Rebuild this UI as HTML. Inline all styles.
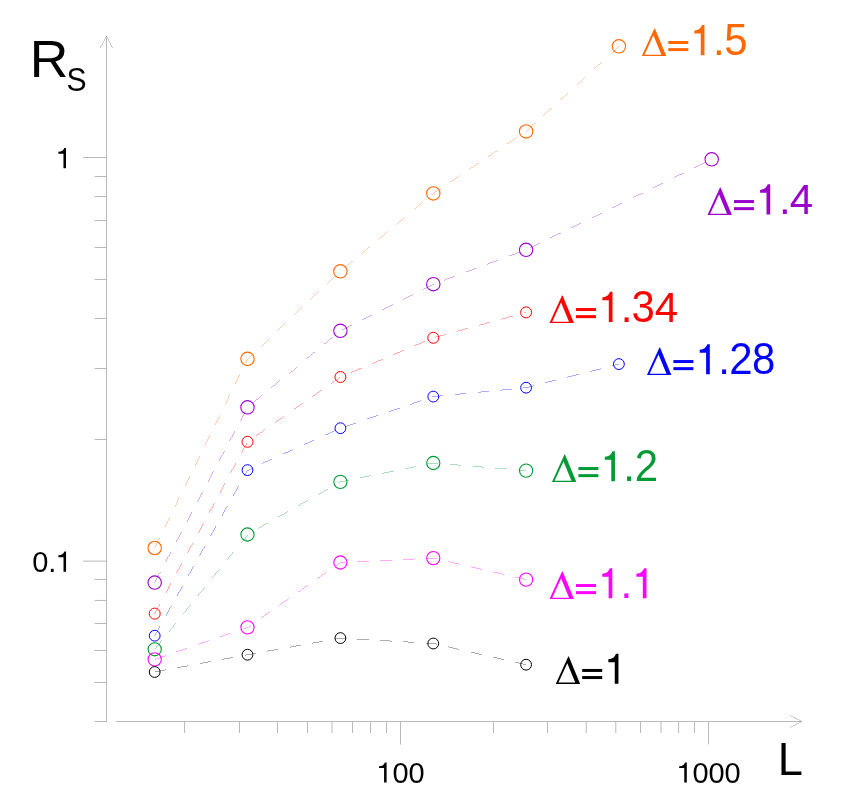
<!DOCTYPE html>
<html><head><meta charset="utf-8"><title>chart</title>
<style>html,body{margin:0;padding:0;background:#fff}body{width:848px;height:808px;overflow:hidden}svg{display:block}text{font-family:"Liberation Sans",sans-serif}.t{will-change:transform}</style></head><body>
<svg width="848" height="808" viewBox="0 0 848 808">
<rect width="848" height="808" fill="#fff"/>
<g fill="#000">
<rect x="106" y="37.5" width="1" height="684.5" fill-opacity="0.280"/>
<rect x="116.1" y="721" width="684.9" height="1" fill-opacity="0.280"/>
<rect x="83" y="157" width="23" height="1" fill-opacity="0.280"/>
<rect x="83" y="560" width="23" height="1" fill-opacity="0.100"/>
<rect x="83" y="561" width="23" height="1" fill-opacity="0.180"/>
<rect x="94.6" y="439" width="11.4" height="1" fill-opacity="0.280"/>
<rect x="94.6" y="368" width="11.4" height="1" fill-opacity="0.280"/>
<rect x="94.6" y="318" width="11.4" height="1" fill-opacity="0.280"/>
<rect x="94.6" y="278" width="11.4" height="1" fill-opacity="0.009"/>
<rect x="94.6" y="279" width="11.4" height="1" fill-opacity="0.271"/>
<rect x="94.6" y="247" width="11.4" height="1" fill-opacity="0.280"/>
<rect x="94.6" y="220" width="11.4" height="1" fill-opacity="0.280"/>
<rect x="94.6" y="196" width="11.4" height="1" fill-opacity="0.280"/>
<rect x="94.6" y="176" width="11.4" height="1" fill-opacity="0.280"/>
<rect x="94.6" y="721" width="11.4" height="1" fill-opacity="0.280"/>
<rect x="94.6" y="682" width="11.4" height="1" fill-opacity="0.280"/>
<rect x="94.6" y="650" width="11.4" height="1" fill-opacity="0.280"/>
<rect x="94.6" y="623" width="11.4" height="1" fill-opacity="0.280"/>
<rect x="94.6" y="599" width="11.4" height="1" fill-opacity="0.014"/>
<rect x="94.6" y="600" width="11.4" height="1" fill-opacity="0.266"/>
<rect x="94.6" y="579" width="11.4" height="1" fill-opacity="0.280"/>
<rect x="184" y="722" width="1" height="11" fill-opacity="0.264"/>
<rect x="185" y="722" width="1" height="11" fill-opacity="0.016"/>
<rect x="239" y="722" width="1" height="11" fill-opacity="0.280"/>
<rect x="277" y="722" width="1" height="11" fill-opacity="0.280"/>
<rect x="307" y="722" width="1" height="11" fill-opacity="0.280"/>
<rect x="331" y="722" width="1" height="11" fill-opacity="0.139"/>
<rect x="332" y="722" width="1" height="11" fill-opacity="0.141"/>
<rect x="352" y="722" width="1" height="11" fill-opacity="0.280"/>
<rect x="370" y="722" width="1" height="11" fill-opacity="0.280"/>
<rect x="386" y="722" width="1" height="11" fill-opacity="0.280"/>
<rect x="400" y="722" width="1" height="22.5" fill-opacity="0.280"/>
<rect x="493" y="722" width="1" height="11" fill-opacity="0.280"/>
<rect x="547" y="722" width="1" height="11" fill-opacity="0.280"/>
<rect x="585" y="722" width="1" height="11" fill-opacity="0.079"/>
<rect x="586" y="722" width="1" height="11" fill-opacity="0.201"/>
<rect x="615" y="722" width="1" height="11" fill-opacity="0.196"/>
<rect x="616" y="722" width="1" height="11" fill-opacity="0.084"/>
<rect x="640" y="722" width="1" height="11" fill-opacity="0.280"/>
<rect x="660" y="722" width="1" height="11" fill-opacity="0.136"/>
<rect x="661" y="722" width="1" height="11" fill-opacity="0.144"/>
<rect x="678" y="722" width="1" height="11" fill-opacity="0.253"/>
<rect x="679" y="722" width="1" height="11" fill-opacity="0.027"/>
<rect x="694" y="722" width="1" height="11" fill-opacity="0.280"/>
<rect x="708" y="722" width="1" height="22.5" fill-opacity="0.280"/>
</g>
<g stroke="#000" stroke-width="0.72" stroke-opacity="0.3" fill="none" shape-rendering="crispEdges">
<polyline points="100.3,47.8 106.5,36.3 112.2,47.8"/>
<polyline points="790.2,715.7 801.8,721.5 790.2,727.4"/>
</g>
<g fill="#000" class="t" opacity="0.99">
<text transform="translate(29.83,77) scale(1.049,1.017)" font-size="51">R</text>
<text transform="translate(66.42,90.8) scale(0.971,1.051)" font-size="31">S</text>
<text transform="translate(777.65,775) scale(1.006,1.031)" font-size="45">L</text>
<path transform="translate(55.6,168.25) scale(29,29.09)" d="M0.359,0 L0.359,-0.695 L0.300,-0.695 Q0.262,-0.578 0.095,-0.566 L0.095,-0.499 L0.271,-0.499 L0.271,0 Z"/>
<path transform="translate(55.65,571.75) scale(29,29.09)" d="M0.359,0 L0.359,-0.695 L0.300,-0.695 Q0.262,-0.578 0.095,-0.566 L0.095,-0.499 L0.271,-0.499 L0.271,0 Z"/>
<text transform="translate(0,572) scale(1,1.04)" x="32.35" y="0" font-size="29">0</text>
<text transform="translate(0,571.75) scale(1,1)" x="48.35" y="0" font-size="29">.</text>
<path transform="translate(376.2,782.6) scale(29,29.09)" d="M0.359,0 L0.359,-0.695 L0.300,-0.695 Q0.262,-0.578 0.095,-0.566 L0.095,-0.499 L0.271,-0.499 L0.271,0 Z"/>
<text transform="translate(0,782.85) scale(1,1.04)" x="392.4 408.4" y="0" font-size="29">00</text>
<path transform="translate(676.4,782.6) scale(29,29.09)" d="M0.359,0 L0.359,-0.695 L0.300,-0.695 Q0.262,-0.578 0.095,-0.566 L0.095,-0.499 L0.271,-0.499 L0.271,0 Z"/>
<text transform="translate(0,782.85) scale(1,1.04)" x="692.6 708.6 724.6" y="0" font-size="29">000</text>
</g>
<g stroke="#ff6600" fill="none">
<circle cx="154.7" cy="548.0" r="6.7" stroke-width="1.1"/>
<circle cx="247.5" cy="358.8" r="6.7" stroke-width="1.1"/>
<circle cx="340.4" cy="271.3" r="6.7" stroke-width="1.1"/>
<circle cx="433.3" cy="193.45" r="6.7" stroke-width="1.1"/>
<circle cx="526.1" cy="131.4" r="6.7" stroke-width="1.1"/>
<circle cx="618.9" cy="46.3" r="6.7" stroke-width="1.1"/>
<polyline points="154.7,548.0 247.5,358.8 340.4,271.3 433.3,193.45 526.1,131.4 618.9,46.3" stroke-width="0.72" stroke-opacity="0.45" shape-rendering="crispEdges" stroke-dasharray="11.43 11.43"/>
</g>
<g fill="#ff6600" class="t" opacity="0.99">
<path transform="translate(642,55.95)" fill-rule="evenodd" d="M-0.15,0 L12.35,-27.5 L12.95,-27.5 L24.25,0 Z M2.55,-1.3 L19.35,-1.3 L11.4,-20.6 Z"/>
<rect x="668.3" y="41" width="20" height="3"/>
<rect x="668.3" y="48.1" width="20" height="3"/>
<path transform="translate(689.38,55.2) scale(42,43.3)" d="M0.359,0 L0.359,-0.695 L0.300,-0.695 Q0.262,-0.578 0.118,-0.566 L0.118,-0.499 L0.271,-0.499 L0.271,0 Z"/>
<text transform="translate(0,55.2) scale(1,1.03)" x="712.98" y="0" font-size="42">.</text>
<text transform="translate(0,55.3) scale(1,1.04)" x="724.28" y="0" font-size="42">5</text>
</g>
<g stroke="#9900cc" fill="none">
<circle cx="154.7" cy="582.6" r="6.7" stroke-width="1.1"/>
<circle cx="247.5" cy="407.3" r="6.7" stroke-width="1.1"/>
<circle cx="340.4" cy="330.8" r="6.7" stroke-width="1.1"/>
<circle cx="433.3" cy="284.2" r="6.7" stroke-width="1.1"/>
<circle cx="526.1" cy="249.8" r="6.7" stroke-width="1.1"/>
<circle cx="711.7" cy="159.3" r="6.7" stroke-width="1.1"/>
<polyline points="154.7,582.6 247.5,407.3 340.4,330.8 433.3,284.2 526.1,249.8 711.7,159.3" stroke-width="0.72" stroke-opacity="0.45" shape-rendering="crispEdges" stroke-dasharray="11.43 11.43"/>
</g>
<g fill="#9900cc" class="t" opacity="0.99">
<path transform="translate(707.65,215)" fill-rule="evenodd" d="M-0.15,0 L12.35,-27.5 L12.95,-27.5 L24.25,0 Z M2.55,-1.3 L19.35,-1.3 L11.4,-20.6 Z"/>
<rect x="733.95" y="200.05" width="20" height="3"/>
<rect x="733.95" y="207.15" width="20" height="3"/>
<path transform="translate(755.13,214.45) scale(42,43.3)" d="M0.359,0 L0.359,-0.695 L0.300,-0.695 Q0.262,-0.578 0.118,-0.566 L0.118,-0.499 L0.271,-0.499 L0.271,0 Z"/>
<text transform="translate(0,214.45) scale(1,1.03)" x="778.93 789.83" y="0" font-size="42">.4</text>
</g>
<g stroke="#ff0000" fill="none">
<circle cx="154.7" cy="613.6" r="5.5" stroke-width="1.0"/>
<circle cx="247.5" cy="441.8" r="5.5" stroke-width="1.0"/>
<circle cx="340.4" cy="377.0" r="5.5" stroke-width="1.0"/>
<circle cx="433.3" cy="337.8" r="5.5" stroke-width="1.0"/>
<circle cx="526.1" cy="312.4" r="5.5" stroke-width="1.0"/>
<polyline points="154.7,613.6 247.5,441.8 340.4,377.0 433.3,337.8 526.1,312.4" stroke-width="0.72" stroke-opacity="0.45" shape-rendering="crispEdges" stroke-dasharray="11.43 11.43"/>
</g>
<g fill="#ff0000" class="t" opacity="0.99">
<path transform="translate(549.65,323)" fill-rule="evenodd" d="M-0.15,0 L12.35,-27.5 L12.95,-27.5 L24.25,0 Z M2.55,-1.3 L19.35,-1.3 L11.4,-20.6 Z"/>
<rect x="575.95" y="308.05" width="20" height="3"/>
<rect x="575.95" y="315.15" width="20" height="3"/>
<path transform="translate(597.43,321.95) scale(42,43.3)" d="M0.359,0 L0.359,-0.695 L0.300,-0.695 Q0.262,-0.578 0.118,-0.566 L0.118,-0.499 L0.271,-0.499 L0.271,0 Z"/>
<text transform="translate(0,321.95) scale(1,1.03)" x="620.83 654.78" y="0" font-size="42">.4</text>
<text transform="translate(0,322.05) scale(1,1.04)" x="631.63" y="0" font-size="42">3</text>
</g>
<g stroke="#0000ff" fill="none">
<circle cx="154.7" cy="635.7" r="5.4" stroke-width="1.0"/>
<circle cx="247.5" cy="470.1" r="5.4" stroke-width="1.0"/>
<circle cx="340.4" cy="428.2" r="5.4" stroke-width="1.0"/>
<circle cx="433.3" cy="396.6" r="5.4" stroke-width="1.0"/>
<circle cx="526.1" cy="387.7" r="5.4" stroke-width="1.0"/>
<circle cx="618.9" cy="364.1" r="5.4" stroke-width="1.0"/>
<polyline points="154.7,635.7 247.5,470.1 340.4,428.2 433.3,396.6 526.1,387.7 618.9,364.1" stroke-width="0.72" stroke-opacity="0.45" shape-rendering="crispEdges" stroke-dasharray="11.43 11.43"/>
</g>
<g fill="#0000ff" class="t" opacity="0.99">
<path transform="translate(647.1,375)" fill-rule="evenodd" d="M-0.15,0 L12.35,-27.5 L12.95,-27.5 L24.25,0 Z M2.55,-1.3 L19.35,-1.3 L11.4,-20.6 Z"/>
<rect x="673.4" y="360.05" width="20" height="3"/>
<rect x="673.4" y="367.15" width="20" height="3"/>
<path transform="translate(694.73,374.25) scale(42,43.3)" d="M0.359,0 L0.359,-0.695 L0.300,-0.695 Q0.262,-0.578 0.118,-0.566 L0.118,-0.499 L0.271,-0.499 L0.271,0 Z"/>
<text transform="translate(0,374.25) scale(1,1.03)" x="718.23" y="0" font-size="42">.</text>
<text transform="translate(0,374.35) scale(1,1.04)" x="729.33 752.13" y="0" font-size="42">28</text>
</g>
<g stroke="#009933" fill="none">
<circle cx="154.7" cy="649.3" r="6.6" stroke-width="1.1"/>
<circle cx="247.5" cy="534.5" r="6.6" stroke-width="1.1"/>
<circle cx="340.4" cy="481.9" r="6.6" stroke-width="1.1"/>
<circle cx="433.3" cy="463.0" r="6.6" stroke-width="1.1"/>
<circle cx="526.1" cy="470.6" r="6.6" stroke-width="1.1"/>
<polyline points="154.7,649.3 247.5,534.5 340.4,481.9 433.3,463.0 526.1,470.6" stroke-width="0.72" stroke-opacity="0.45" shape-rendering="crispEdges" stroke-dasharray="11.43 11.43"/>
</g>
<g fill="#009933" class="t" opacity="0.99">
<path transform="translate(552.1,482)" fill-rule="evenodd" d="M-0.15,0 L12.35,-27.5 L12.95,-27.5 L24.25,0 Z M2.55,-1.3 L19.35,-1.3 L11.4,-20.6 Z"/>
<rect x="578.4" y="467.05" width="20" height="3"/>
<rect x="578.4" y="474.15" width="20" height="3"/>
<path transform="translate(599.88,481.25) scale(42,43.3)" d="M0.359,0 L0.359,-0.695 L0.300,-0.695 Q0.262,-0.578 0.118,-0.566 L0.118,-0.499 L0.271,-0.499 L0.271,0 Z"/>
<text transform="translate(0,481.25) scale(1,1.03)" x="623.28" y="0" font-size="42">.</text>
<text transform="translate(0,481.35) scale(1,1.04)" x="634.68" y="0" font-size="42">2</text>
</g>
<g stroke="#ff00ff" fill="none">
<circle cx="154.7" cy="659.4" r="6.6" stroke-width="1.1"/>
<circle cx="247.5" cy="627.4" r="6.6" stroke-width="1.1"/>
<circle cx="340.4" cy="562.5" r="6.6" stroke-width="1.1"/>
<circle cx="433.3" cy="558.1" r="6.6" stroke-width="1.1"/>
<circle cx="526.1" cy="579.6" r="6.6" stroke-width="1.1"/>
<polyline points="154.7,659.4 247.5,627.4 340.4,562.5 433.3,558.1 526.1,579.6" stroke-width="0.72" stroke-opacity="0.45" shape-rendering="crispEdges" stroke-dasharray="11.43 11.43"/>
</g>
<g fill="#ff00ff" class="t" opacity="0.99">
<path transform="translate(549.7,599)" fill-rule="evenodd" d="M-0.15,0 L12.35,-27.5 L12.95,-27.5 L24.25,0 Z M2.55,-1.3 L19.35,-1.3 L11.4,-20.6 Z"/>
<rect x="576" y="584.05" width="20" height="3"/>
<rect x="576" y="591.15" width="20" height="3"/>
<path transform="translate(597.24,598.35) scale(42,43.3)" d="M0.359,0 L0.359,-0.695 L0.300,-0.695 Q0.262,-0.578 0.118,-0.566 L0.118,-0.499 L0.271,-0.499 L0.271,0 Z"/>
<path transform="translate(631.44,598.35) scale(42,43.3)" d="M0.359,0 L0.359,-0.695 L0.300,-0.695 Q0.262,-0.578 0.118,-0.566 L0.118,-0.499 L0.271,-0.499 L0.271,0 Z"/>
<text transform="translate(0,598.35) scale(1,1.03)" x="620.44" y="0" font-size="42">.</text>
</g>
<g stroke="#000000" fill="none">
<circle cx="154.7" cy="672.0" r="5.4" stroke-width="1.0"/>
<circle cx="247.5" cy="654.7" r="5.4" stroke-width="1.0"/>
<circle cx="340.4" cy="638.1" r="5.4" stroke-width="1.0"/>
<circle cx="433.3" cy="643.5" r="5.4" stroke-width="1.0"/>
<circle cx="526.1" cy="664.7" r="5.4" stroke-width="1.0"/>
<polyline points="154.7,672.0 247.5,654.7 340.4,638.1 433.3,643.5 526.1,664.7" stroke-width="0.72" stroke-opacity="0.45" shape-rendering="crispEdges" stroke-dasharray="11.43 11.43"/>
</g>
<g fill="#000000" class="t" opacity="0.99">
<path transform="translate(555.9,683.9)" fill-rule="evenodd" d="M-0.15,0 L12.35,-27.5 L12.95,-27.5 L24.25,0 Z M2.55,-1.3 L19.35,-1.3 L11.4,-20.6 Z"/>
<rect x="582.2" y="668.95" width="20" height="3"/>
<rect x="582.2" y="676.05" width="20" height="3"/>
<path transform="translate(603.38,683.85) scale(42,43.3)" d="M0.359,0 L0.359,-0.695 L0.300,-0.695 Q0.262,-0.578 0.118,-0.566 L0.118,-0.499 L0.271,-0.499 L0.271,0 Z"/>
</g>
</svg></body></html>
